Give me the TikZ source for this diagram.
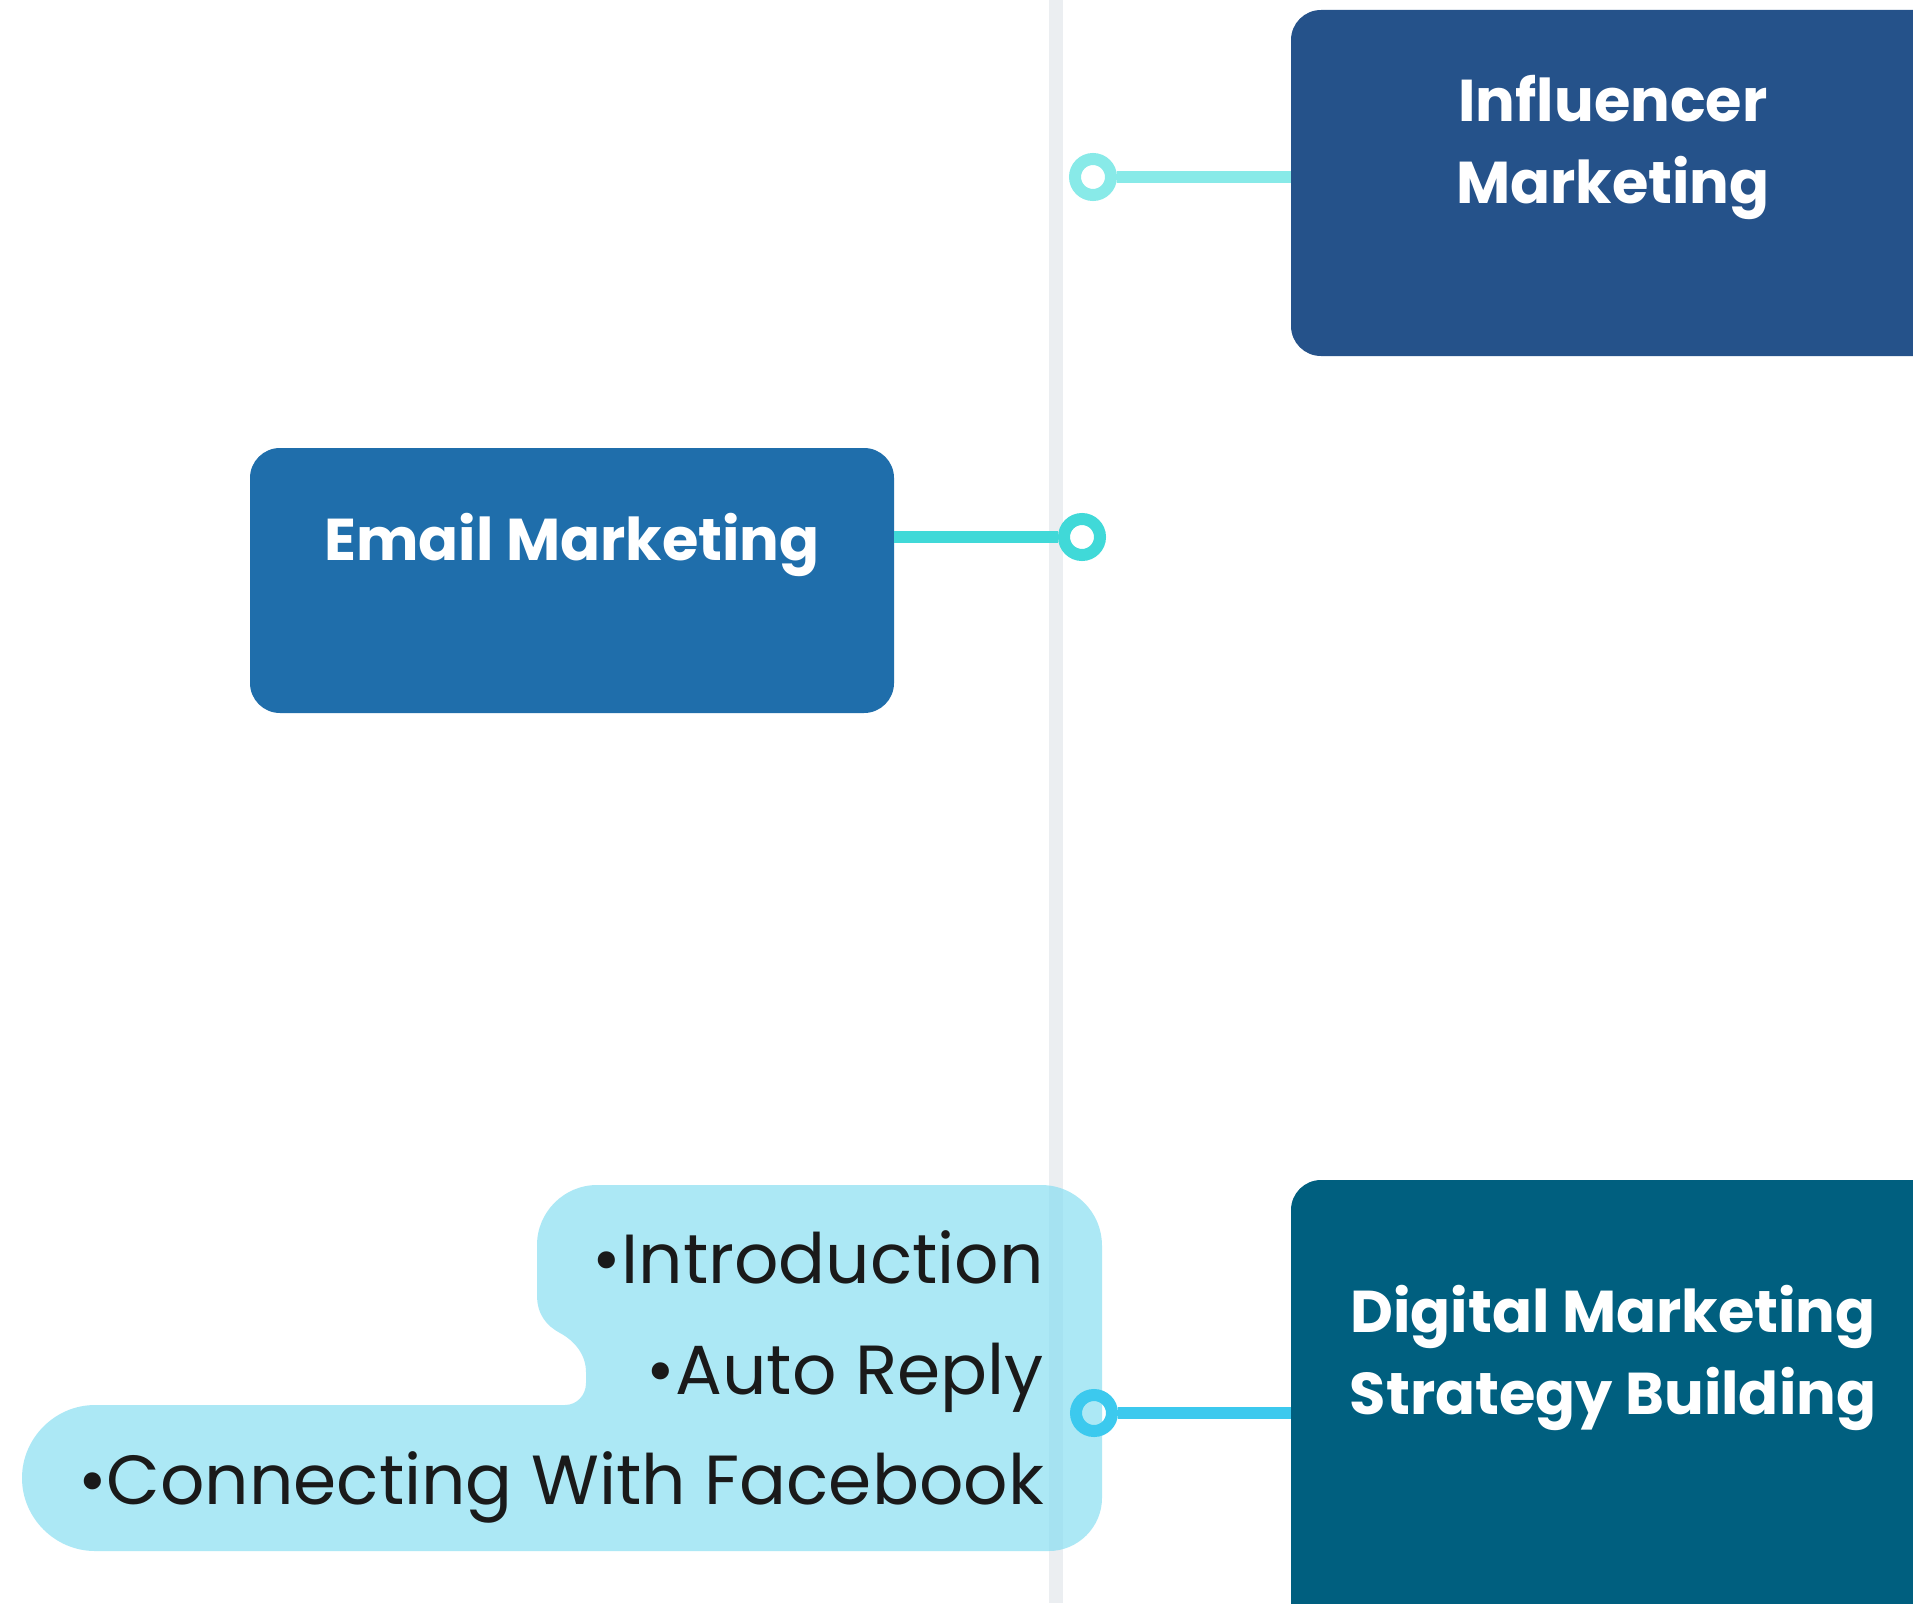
\documentclass[tikz,border=0pt]{standalone}
\usepackage{fontspec}
\setmainfont{Poppins}
\definecolor{inflc}{RGB}{37,82,138}
\definecolor{emailc}{RGB}{31,110,171}
\definecolor{digc}{RGB}{0,95,127}
\definecolor{ringa}{RGB}{136,234,232}
\definecolor{ringb}{RGB}{64,217,216}
\definecolor{ringc}{RGB}{60,201,238}
\definecolor{vlinec}{RGB}{235,238,241}
\definecolor{calloutc}{RGB}{129,220,241}
\definecolor{itemc}{RGB}{26,26,26}
\tikzset{
  topicbox/.style={rounded corners=30pt, inner sep=0pt, outer sep=0pt},
  titletext/.style={text=white, font=\fontsize{59}{82}\selectfont\bfseries, align=center, inner sep=0pt},
  ringnode/.style={circle, draw=#1, line width=12pt, minimum size=36pt, inner sep=0pt},
  connline/.style={draw=#1, line width=12pt},
  itemtext/.style={text=itemc, font=\fontsize{69.5}{84}\selectfont, inner sep=0pt, anchor=base east}
}
\begin{document}
\begin{tikzpicture}[x=1pt,y=-1pt]
\useasboundingbox (0,0) rectangle (1913,1603);
\clip (0,0) rectangle (1913,1603);
\fill[white] (0,0) rectangle (1913,1603);
% vertical timeline
\fill[vlinec] (1049,0) rectangle (1063,1603);
% topic boxes
\node[topicbox, fill=inflc, minimum width=669pt, minimum height=346pt] (infl) at (1625.5,183) {};
\node[topicbox, fill=emailc, minimum width=644pt, minimum height=265pt] (email) at (572,580.5) {};
\node[topicbox, fill=digc, minimum width=669pt, minimum height=470pt] (dig) at (1625.5,1415) {};
% titles (anchor base = baseline of last line)
\node[titletext, anchor=base] (inflT) at (1613,203) {Influencer\\Marketing};
\node[titletext, anchor=base] (emailT) at (572,560) {Email Marketing};
\node[titletext, anchor=base] (digT) at (1613,1414) {Digital Marketing\\Strategy Building};
% callout
\fill[calloutc, fill opacity=0.65]
  (597,1185) -- (1041,1185)
  .. controls (1075,1185) and (1102,1212) .. (1102,1246)
  -- (1102,1498)
  .. controls (1102,1527) and (1078,1551) .. (1049,1551)
  -- (95,1551)
  .. controls (55,1551) and (22,1518) .. (22,1478)
  .. controls (22,1438) and (55,1405) .. (95,1405)
  -- (565,1405)
  .. controls (577,1405) and (586,1395) .. (586,1383)
  -- (586,1372)
  .. controls (586,1355) and (575,1341) .. (560,1333)
  .. controls (547,1326) and (537,1315) .. (537,1295)
  -- (537,1245)
  .. controls (537,1212) and (564,1185) .. (597,1185) -- cycle;
\node[itemtext] (i1) at (1044,1283) {•Introduction};
\node[itemtext] (i2) at (1044,1394) {•Auto Reply};
\node[itemtext] (i3) at (1044,1504) {•Connecting With Facebook};
% rings and connectors
\node[ringnode=ringa] (r1) at (1093,177) {};
\node[ringnode=ringb] (r2) at (1082,537) {};
\node[ringnode=ringc] (r3) at (1094,1413) {};
\draw[connline=ringa] (r1.east) -- (infl.west |- r1);
\draw[connline=ringb] (email.east |- r2) -- (r2.west);
\draw[connline=ringc] (r3.east) -- (dig.west |- r3);
\end{tikzpicture}
\end{document}
